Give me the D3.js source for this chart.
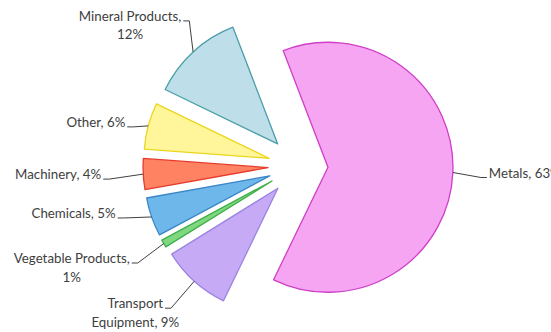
<!DOCTYPE html>
<html>
<head>
<meta charset="utf-8">
<script src="https://cdn.jsdelivr.net/npm/d3@7"></script>
<style>
    body { margin: 0; background: #fff; }
    svg { display: block; }
    .label { font-family: Lato, "Open Sans", sans-serif; font-size: 13.3px; fill: #404040; }
</style>
</head>
<body>
<div id="chart"></div>
<script>
(function () {
    "use strict";

    // order follows the pie clockwise from Metals
    const categories = ["Metals", "Transport Equipment", "Vegetable Products", "Chemicals", "Machinery", "Other", "Mineral Products"];
    const shares = [63, 9, 1, 5, 4, 6, 12];
    const labelLines = [
        ["Metals, 63%"],
        ["Transport", "Equipment, 9%"],
        ["Vegetable Products,", "1%"],
        ["Chemicals, 5%"],
        ["Machinery, 4%"],
        ["Other, 6%"],
        ["Mineral Products,", "12%"]
    ];

    const fills = ["#f5a5f1", "#c6aaf5", "#7fd77f", "#6db7ea", "#ff8262", "#fff69b", "#bedfe9"];
    const strokes = ["#cf3fc8", "#9a84e2", "#3fae4a", "#3a86c9", "#e53c2c", "#ecd51a", "#4a9ea8"];

    // label placement relative to the slice's outer midpoint
    const labelLayout = [
        { dx: 36, dy: 5, anchor: "start" },
        { dx: -59, dy: 27, anchor: "middle" },
        { dx: -92, dy: 19.5, anchor: "middle" },
        { dx: -36, dy: 1, anchor: "end" },
        { dx: -42, dy: 5, anchor: "end" },
        { dx: -23, dy: 1, anchor: "end" },
        { dx: -63, dy: -31, anchor: "middle" }
    ];

    const width = 551;
    const height = 332;
    const cx = 298;
    const cy = 166;
    const radius = 125;
    const explode = 30;
    const lineHeight = 18.5;

    const svg = d3.select("#chart").append("svg")
        .attr("width", width)
        .attr("height", height);

    const pie = d3.pie()
        .sort(null)
        .value(d => d)
        .startAngle(-21 * Math.PI / 180)
        .endAngle((360 - 21) * Math.PI / 180);

    const arc = d3.arc()
        .innerRadius(0)
        .outerRadius(radius);

    const slices = pie(shares);

    const g = svg.append("g")
        .attr("transform", `translate(${cx},${cy})`);

    function dir(d) {
        const mid = (d.startAngle + d.endAngle) / 2;
        return [Math.sin(mid), -Math.cos(mid)];
    }

    g.selectAll("path.slice")
        .data(slices)
        .join("path")
        .attr("class", "slice")
        .attr("transform", d => {
            const [ux, uy] = dir(d);
            return `translate(${ux * explode},${uy * explode})`;
        })
        .attr("d", arc)
        .attr("fill", (d, i) => fills[i])
        .attr("stroke", (d, i) => strokes[i])
        .attr("stroke-width", 1.3)
        .attr("stroke-linejoin", "round");

    const labels = g.append("g");

    slices.forEach((d, i) => {
        const [ux, uy] = dir(d);
        const ax = ux * (radius + explode);
        const ay = uy * (radius + explode);
        const layout = labelLayout[i];
        const tx = ax + layout.dx;
        const ty = ay + layout.dy;

        const text = labels.append("text")
            .attr("class", "label")
            .attr("text-anchor", layout.anchor);

        labelLines[i].forEach((line, k) => {
            text.append("tspan")
                .attr("x", tx)
                .attr("y", ty + k * lineHeight)
                .text(line);
        });

        const firstWidth = text.select("tspan").node().getComputedTextLength();
        let ex;
        let elbow;
        if (layout.anchor === "start") {
            ex = tx - 2;
            elbow = ex - 6;
        } else if (layout.anchor === "end") {
            ex = tx + 2;
            elbow = ex + 6;
        } else {
            ex = tx + firstWidth / 2 + 2;
            elbow = ex + 6;
        }
        const ey = ty;

        labels.append("path")
            .attr("d", d3.line()([[ax, ay], [elbow, ey], [ex, ey]]))
            .attr("fill", "none")
            .attr("stroke", "#404040")
            .attr("stroke-width", 1);
    });
}());
</script>
</body>
</html>
